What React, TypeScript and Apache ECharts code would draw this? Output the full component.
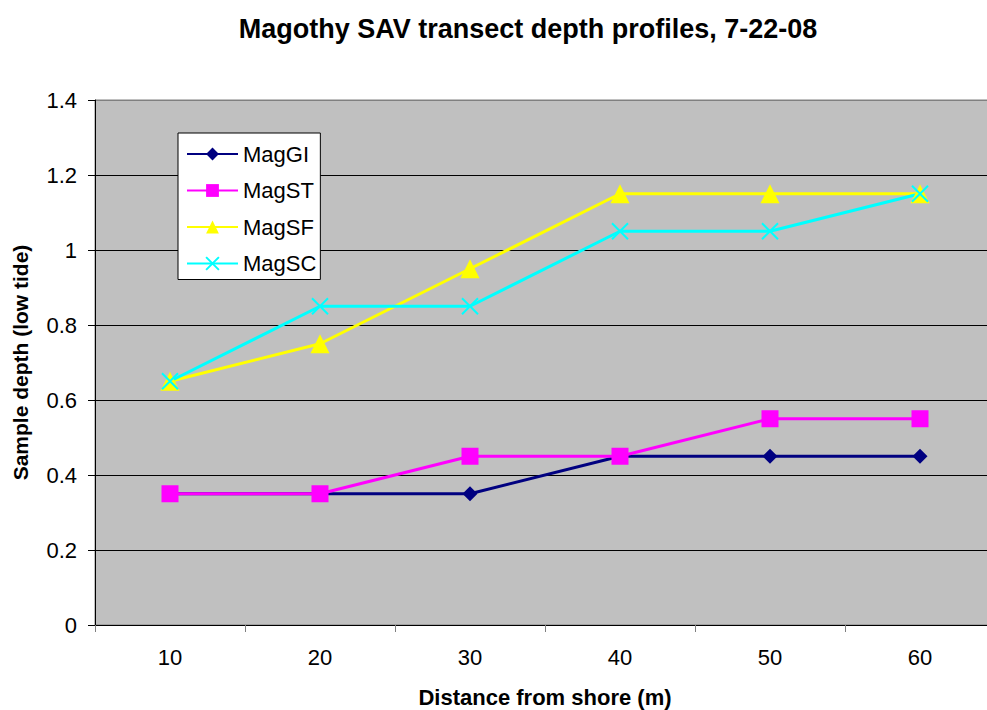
import React, { useEffect, useRef } from "react";
import * as echarts from "echarts";

const categories = ["10", "20", "30", "40", "50", "60"];
const magGI = [0.35, 0.35, 0.35, 0.45, 0.45, 0.45];
const magST = [0.35, 0.35, 0.45, 0.45, 0.55, 0.55];
const magSF = [0.65, 0.75, 0.95, 1.15, 1.15, 1.15];
const magSC = [0.65, 0.85, 0.85, 1.05, 1.05, 1.15];

const FONT = "'Liberation Sans', Arial, sans-serif";

export default function App() {
  const ref = useRef<HTMLDivElement>(null);
  useEffect(() => {
    if (!ref.current) return;
    const chart = echarts.init(ref.current, undefined, { renderer: "svg" });
    const lineSeries = (name: string, data: number[], color: string, symbol: string, size: number) => ({
      name,
      type: "line",
      data,
      symbol,
      symbolSize: size,
      lineStyle: { color, width: 3 },
      itemStyle: { color },
    });
    chart.setOption({
      animation: false,
      backgroundColor: "#ffffff",
      textStyle: { fontFamily: FONT },
      title: {
        text: "Magothy SAV transect depth profiles, 7-22-08",
        left: 523,
        textAlign: "center",
        top: 10,
        textStyle: { fontFamily: FONT, fontSize: 27, fontWeight: "bold", color: "#000" },
      },
      grid: {
        left: 95,
        top: 100,
        width: 900,
        height: 525,
        outerBoundsMode: "none",
        containLabel: false,
        show: true,
        backgroundColor: "#C0C0C0",
        borderColor: "#808080",
        borderWidth: 1,
      },
      legend: {
        orient: "vertical",
        left: 178,
        top: 133,
        padding: [10, 4, 5, 8],
        backgroundColor: "#ffffff",
        borderColor: "#000000",
        borderWidth: 1,
        borderRadius: 0,
        itemWidth: 51,
        itemHeight: 16,
        itemGap: 14.5,
        textStyle: { fontFamily: FONT, fontSize: 22, color: "#000", lineHeight: 22, padding: [0, 0, 0, 0] },
        data: ["MagGI", "MagST", "MagSF", "MagSC"],
      },
      xAxis: {
        type: "category",
        data: categories,
        boundaryGap: true,
        name: "Distance from shore (m)",
        nameLocation: "middle",
        nameGap: 61,
        nameTextStyle: { fontFamily: FONT, fontSize: 22, fontWeight: "bold", color: "#000" },
        axisLine: { lineStyle: { color: "#000", width: 1 } },
        axisTick: { show: true, inside: false, length: 7, lineStyle: { color: "#808080" } },
        axisLabel: { fontFamily: FONT, fontSize: 22, color: "#000", margin: 21 },
        splitLine: { show: false },
      },
      yAxis: {
        type: "value",
        min: 0,
        max: 1.4,
        interval: 0.2,
        name: "Sample depth (low tide)",
        nameLocation: "middle",
        nameGap: 64,
        nameRotate: 90,
        nameTextStyle: { fontFamily: FONT, fontSize: 21, fontWeight: "bold", color: "#000" },
        axisLine: { show: true, lineStyle: { color: "#000", width: 1 } },
        axisTick: { show: true, inside: false, length: 7, lineStyle: { color: "#000" } },
        axisLabel: {
          fontFamily: FONT,
          fontSize: 22,
          color: "#000",
          margin: 18,
          formatter: (v: number) => String(Math.round(v * 10) / 10),
        },
        splitLine: {
          show: true,
          lineStyle: {
            color: ["#000", "#000", "#000", "#000", "#000", "#000", "#000", "#808080"],
            width: 1,
          },
        },
      },
      series: [
        lineSeries("MagGI", magGI, "#000080", "diamond", 15),
        lineSeries("MagST", magST, "#FF00FF", "rect", 17),
        lineSeries("MagSF", magSF, "#FFFF00", "triangle", 19),
        {
          name: "MagSC",
          type: "line",
          data: magSC,
          symbol: "path://M0,0L10,10M10,0L0,10",
          symbolSize: 16,
          lineStyle: { color: "#00FFFF", width: 3 },
          itemStyle: { color: "#00FFFF", borderColor: "#00FFFF", borderWidth: 2 },
        },
      ],
    });
    return () => chart.dispose();
  }, []);
  return (
    <div
      ref={ref}
      style={{ position: "fixed", left: 0, top: 0, width: 987, height: 710 }}
    />
  );
}
